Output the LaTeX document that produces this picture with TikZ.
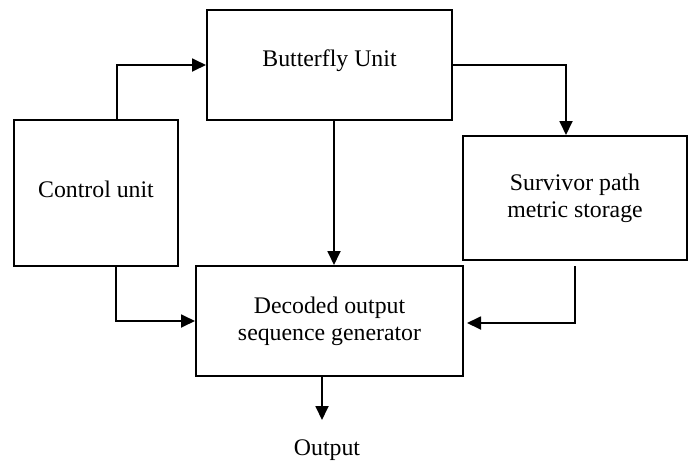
\documentclass[tikz,border=0pt]{standalone}
\usepackage{fontspec}
\setmainfont{Liberation Serif}
\usetikzlibrary{arrows.meta,calc}
\tikzset{
  blk/.style={draw=black, line width=2pt, rectangle, inner sep=0pt, align=center,
    font=\fontsize{23.8}{27}\selectfont},
  arr/.style={line width=1.8pt, -{Triangle[length=14pt,width=13pt]}},
  lbl/.style={inner sep=0pt, font=\fontsize{23.8}{27}\selectfont},
}
\begin{document}
\begin{tikzpicture}[x=1pt, y=-1pt]
\useasboundingbox (0,0) rectangle (691,461);
\node[blk, minimum width=245pt, minimum height=110pt, text depth=12.9pt] (bfly) at (329.5,65) {Butterfly Unit};
\node[blk, minimum width=164pt, minimum height=146pt, text depth=8.3pt] (ctrl) at (96,193) {Control unit};
\node[blk, minimum width=224pt, minimum height=124pt] (surv) at (575,198) {Survivor path\\metric storage};
\node[blk, minimum width=267pt, minimum height=110pt] (dec) at (329.5,321) {Decoded output\\sequence generator};
\node[lbl, anchor=base] (out) at (327,455) {Output};
\coordinate (outtip) at (322,420);
% connectors
\draw[arr] ([xshift=21pt]ctrl.north) |- (bfly.west);
\draw[arr] (bfly.east) -| ([xshift=-9pt]surv.north);
\draw[arr] ([xshift=4.5pt]bfly.south) -- ([xshift=4.5pt]bfly.south |- dec.north);
\draw[arr] ([xshift=20pt]ctrl.south) |- (dec.west);
\draw[arr] ([yshift=-5pt]surv.south) |- ([xshift=3pt,yshift=-2pt]dec.east);
\draw[arr] (dec.south -| outtip) -- (outtip);
\end{tikzpicture}
\end{document}
